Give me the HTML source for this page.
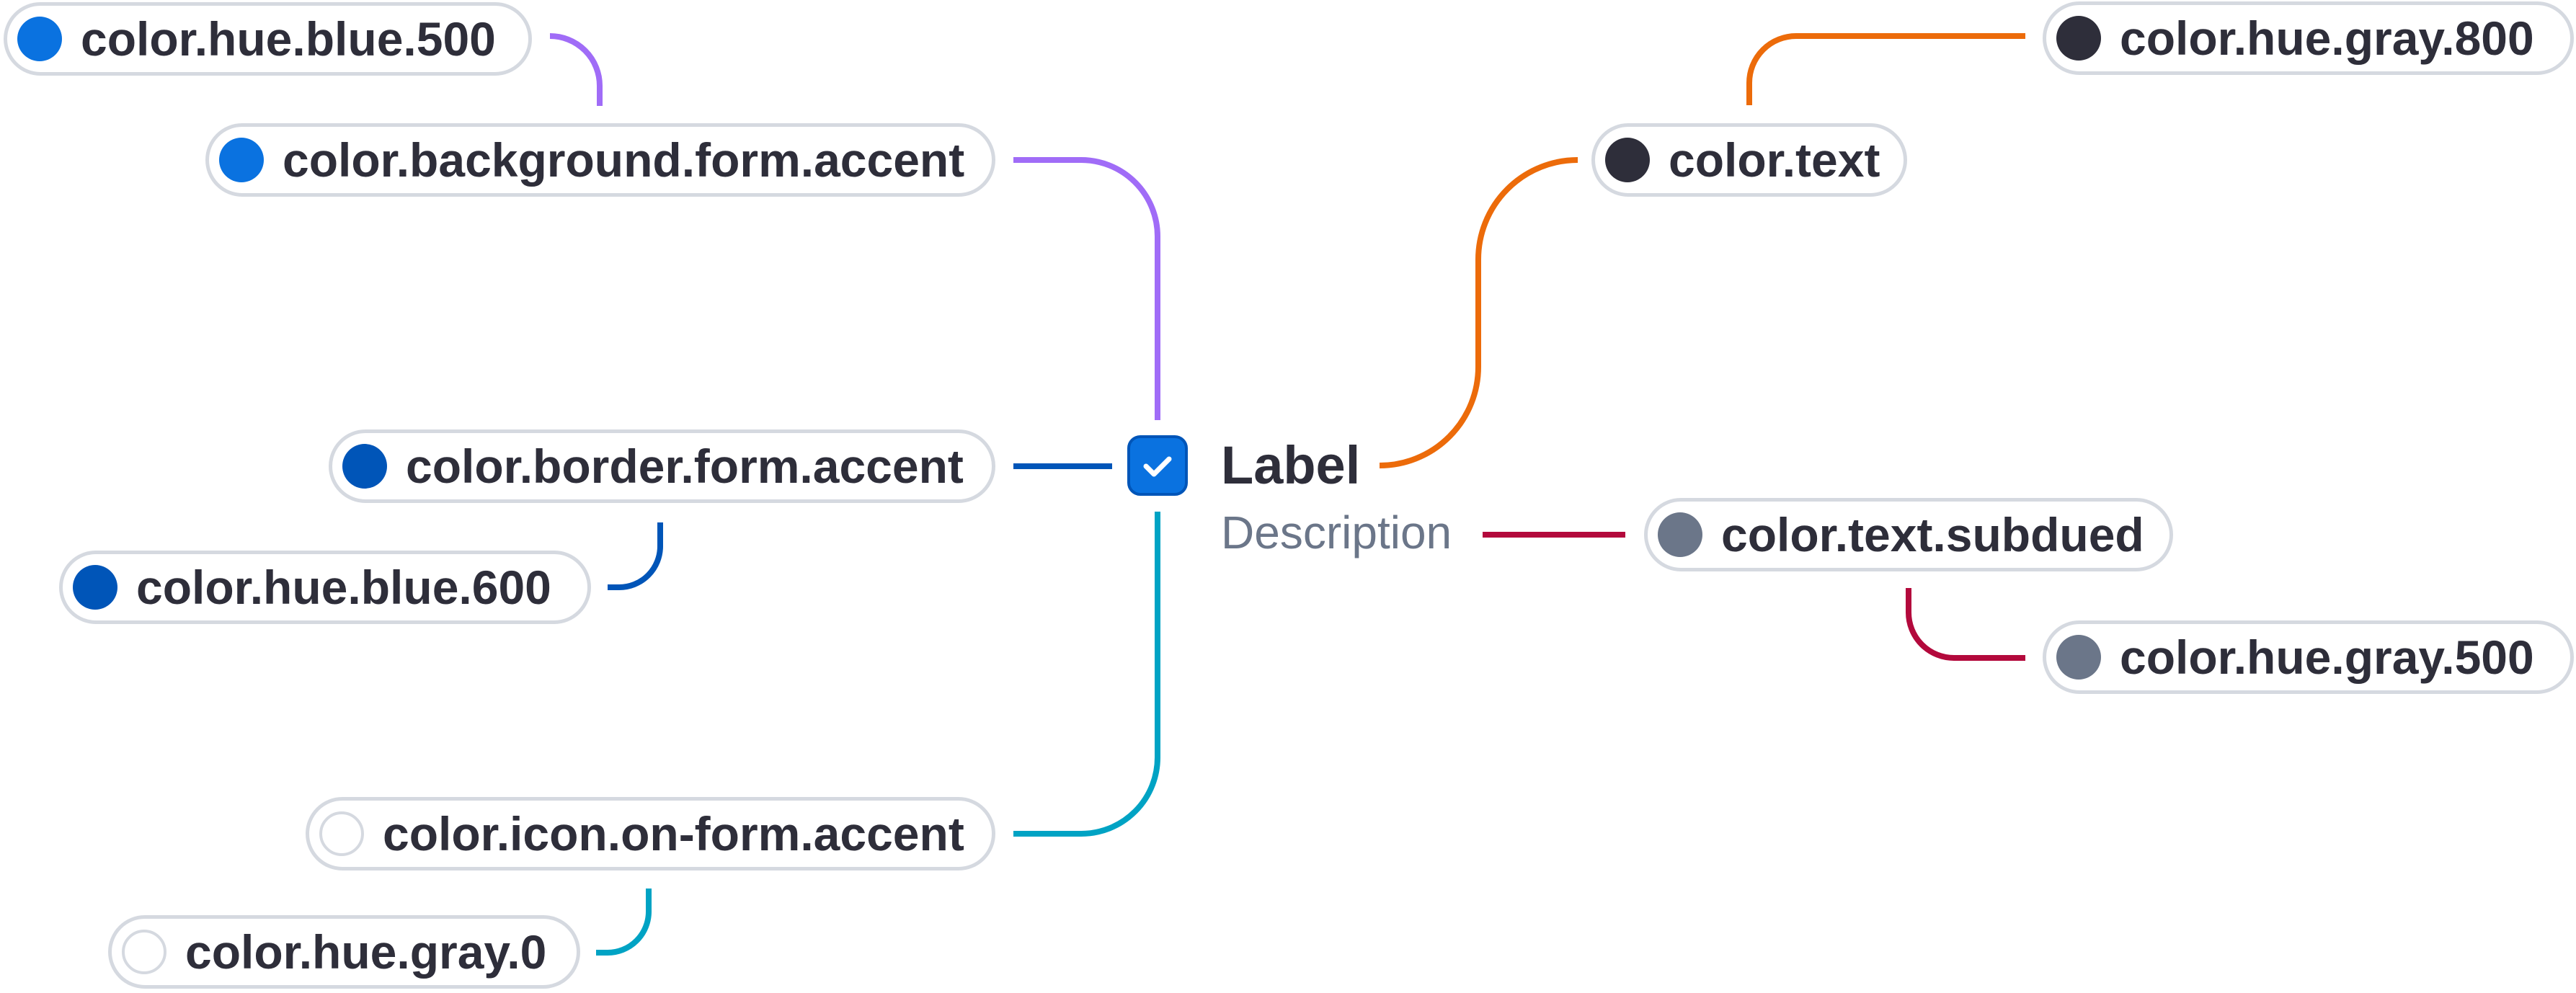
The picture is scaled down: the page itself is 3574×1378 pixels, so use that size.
<!DOCTYPE html>
<html><head><meta charset="utf-8"><style>
html,body{margin:0;padding:0;background:#fff;}
body{width:3574px;height:1378px;position:relative;overflow:hidden;font-family:"Liberation Sans",Arial,sans-serif;}
.p{position:absolute;box-sizing:border-box;height:102px;border:5px solid #d5d9e0;border-radius:56px;background:#fff;}
.p .d{position:absolute;left:14px;top:15px;width:62px;height:62px;border-radius:50%;box-sizing:border-box;}
.p .t{position:absolute;left:102px;top:0;line-height:92px;font-size:66px;font-weight:bold;color:#2e2e3a;white-space:nowrap;}
svg{position:absolute;left:0;top:0;}
</style></head><body>
<svg width="3574" height="1378" fill="none" stroke-width="8">
<path d="M763,50 A69,69 0 0 1 832,119 L832,147" stroke="#a06cf7"/>
<path d="M1406,222 L1500,222 A106,106 0 0 1 1606,328 L1606,583" stroke="#a06cf7"/>
<path d="M1406,647 L1543,647" stroke="#0055b8"/>
<path d="M1606,710 L1606,1050 A106,106 0 0 1 1500,1157 L1406,1157" stroke="#00a3c4"/>
<path d="M916,725 L916,758 A57,57 0 0 1 859,815 L843,815" stroke="#0055b8"/>
<path d="M900,1233 L900,1265 A57,57 0 0 1 843,1322 L827,1322" stroke="#00a3c4"/>
<path d="M1914,646 A137,137 0 0 0 2051,509 L2051,360 A138,138 0 0 1 2189,222" stroke="#ec6b0a"/>
<path d="M2427,146 L2427,115 A65,65 0 0 1 2492,50 L2810,50" stroke="#ec6b0a"/>
<path d="M2057,742 L2255,742" stroke="#b3093c"/>
<path d="M2648,816 L2648,850 A63,63 0 0 0 2711,913 L2810,913" stroke="#b3093c"/>
</svg>

<div class="p" style="left:5px;top:3px;width:733px"><div class="d" style="background:#0a72e0"></div><div class="t">color.hue.blue.500</div></div>
<div class="p" style="left:285px;top:171px;width:1096px"><div class="d" style="background:#0a72e0"></div><div class="t">color.background.form.accent</div></div>
<div class="p" style="left:456px;top:596px;width:925px"><div class="d" style="background:#0055b8"></div><div class="t">color.border.form.accent</div></div>
<div class="p" style="left:82px;top:764px;width:738px"><div class="d" style="background:#0055b8"></div><div class="t">color.hue.blue.600</div></div>
<div class="p" style="left:424px;top:1106px;width:957px"><div class="d" style="background:#fff;border:4px solid #d5d9e0"></div><div class="t">color.icon.on-form.accent</div></div>
<div class="p" style="left:150px;top:1270px;width:655px"><div class="d" style="background:#fff;border:4px solid #d5d9e0"></div><div class="t">color.hue.gray.0</div></div>

<div class="p" style="left:2834px;top:2px;width:737px"><div class="d" style="background:#2e2e3a"></div><div class="t">color.hue.gray.800</div></div>
<div class="p" style="left:2208px;top:171px;width:438px"><div class="d" style="background:#2e2e3a"></div><div class="t">color.text</div></div>
<div class="p" style="left:2281px;top:691px;width:734px"><div class="d" style="background:#6b7689"></div><div class="t">color.text.subdued</div></div>
<div class="p" style="left:2834px;top:861px;width:737px"><div class="d" style="background:#6b7689"></div><div class="t">color.hue.gray.500</div></div>

<div style="position:absolute;left:1564px;top:604px;width:84px;height:84px;box-sizing:border-box;border:4px solid #0055b8;border-radius:18px;background:#0a72e0;">
<svg width="76" height="76" style="position:absolute;left:0;top:0"><path d="M22,39 L33,50 L54,29" stroke="#fff" stroke-width="7" stroke-linecap="round" stroke-linejoin="round" fill="none"/></svg>
</div>
<div style="position:absolute;left:1694px;top:596px;font-size:74px;font-weight:bold;color:#2e2e3a;line-height:100px;">Label</div>
<div style="position:absolute;left:1694px;top:694px;font-size:64px;color:#6b7689;line-height:90px;">Description</div>
</body></html>
